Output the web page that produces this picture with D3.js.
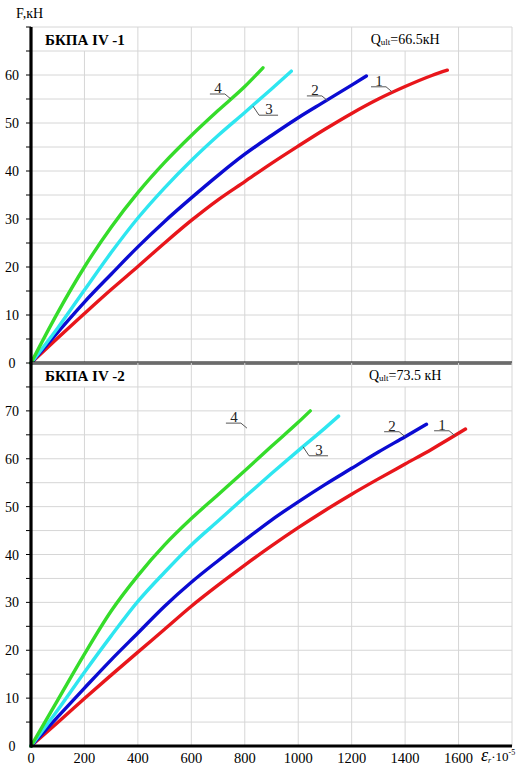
<!DOCTYPE html>
<html><head><meta charset="utf-8">
<script src="https://cdn.jsdelivr.net/npm/d3@7"></script>
<style>body{margin:0;background:#fff}svg{display:block}text{font-family:"Liberation Serif","Times New Roman",serif}</style>
</head><body>
<script>
// ---- data ----
const strainTicks = [0,200,400,600,800,1000,1200,1400,1600];
const gridStrain = [200,400,600,800,1000,1200,1400,1600,1800];
const headerGapStrain = [200,1400];
const topForceTicks = [0,10,20,30,40,50,60];
const botForceTicks = [0,10,20,30,40,50,60,70];
const seriesNames = ["1","2","3","4"];
const seriesColors = ["#e8161b","#0b0bd2","#2ee6f0","#35dc2a"];

// panel БКПА IV -1
const top1Strain = [0,100,200,300,400,500,600,700,800,900,1000,1100,1200,1300,1400,1500,1558];
const top1Force  = [0,5.2,10.3,15.3,20.1,25,29.7,34,37.8,41.6,45.2,48.7,52,55,57.6,59.9,61];
const top2Strain = [0,100,200,300,400,500,600,700,800,900,1000,1100,1200,1255];
const top2Force  = [0,6.4,12.7,18.5,24.2,29.5,34.4,39.1,43.5,47.4,51.1,54.5,57.9,59.8];
const top3Strain = [0,100,200,300,400,500,600,700,800,900,974];
const top3Force  = [0,7.3,15.2,23,30.2,36.5,42.2,47.4,52.2,57.1,60.8];
const top4Strain = [0,100,200,300,400,500,600,700,800,868];
const top4Force  = [0,10.5,20,28.3,35.5,41.8,47.4,52.6,57.6,61.5];
// label anchors [strain, force] on the curves
const topLabelAnchors = [[1351,56.5],[1111,54.6],[831,53.5],[748,55]];

// panel БКПА IV -2
const bot1Strain = [0,100,200,300,400,500,600,700,800,900,1000,1100,1200,1300,1400,1500,1626];
const bot1Force  = [0,4.9,9.9,14.8,19.6,24.4,29.2,33.6,37.8,41.8,45.6,49.2,52.6,55.8,58.9,62,66.2];
const bot2Strain = [0,100,200,300,400,500,600,700,800,900,1000,1100,1200,1300,1400,1480];
const bot2Force  = [0,6.1,12.1,18,23.6,29.2,34.2,38.7,43,47.2,51,54.6,58,61.4,64.6,67.2];
const bot3Strain = [0,100,200,300,400,500,600,700,800,900,1000,1100,1151];
const bot3Force  = [0,7.5,15.4,23,30.2,36.3,42,47,52,56.9,61.7,66.4,68.9];
const bot4Strain = [0,100,200,300,400,500,600,700,800,900,1000,1045];
const bot4Force  = [0,9.6,19.2,28.2,35.6,42,47.5,52.5,57.5,62.6,67.6,70];
const botLabelAnchors = [[1587,64.8],[1400,64.6],[1018,62.5],[808,66.4]];

const panelTitles = ["БКПА IV -1","БКПА IV -2"];
const panelQult = ["=66.5кН","=73.5 кН"];
const panelMax = [70,80];

// ---- layout ----
const W = 523, H = 767;
const svg = d3.select("body").append("svg").attr("width",W).attr("height",H)
  .attr("font-family","Liberation Serif, Times New Roman, serif");

const x = d3.scaleLinear().domain([0,1800]).range([31,512]);
const panels = [
  {y: d3.scaleLinear().domain([0,panelMax[0]]).range([363,27]), ticks: topForceTicks,
   series: [[top1Strain,top1Force],[top2Strain,top2Force],[top3Strain,top3Force],[top4Strain,top4Force]],
   anchors: topLabelAnchors, title: panelTitles[0], q: panelQult[0], max: panelMax[0]},
  {y: d3.scaleLinear().domain([0,panelMax[1]]).range([746,363]), ticks: botForceTicks,
   series: [[bot1Strain,bot1Force],[bot2Strain,bot2Force],[bot3Strain,bot3Force],[bot4Strain,bot4Force]],
   anchors: botLabelAnchors, title: panelTitles[1], q: panelQult[1], max: panelMax[1]}
];
const gridColor = "#d6d6d6";

panels.forEach((p, pi) => {
  const g = svg.append("g");
  const headerF = p.max - 5;
  g.selectAll(".hg").data(d3.range(5, p.max + 1, 5)).join("line")
    .attr("x1", x(0)).attr("x2", x(1800))
    .attr("y1", d => p.y(d)).attr("y2", d => p.y(d))
    .attr("stroke", gridColor).attr("stroke-width", 1);
  g.selectAll(".vg").data(gridStrain).join("line")
    .attr("x1", d => x(d)).attr("x2", d => x(d))
    .attr("y1", p.y(0))
    .attr("y2", d => headerGapStrain.includes(d) ? p.y(headerF) : p.y(p.max))
    .attr("stroke", gridColor).attr("stroke-width", 1);
  g.selectAll(".yt").data(d3.range(5, p.max + 1, 5)).join("line")
    .attr("x1", x(0) - 5).attr("x2", x(0))
    .attr("y1", d => p.y(d)).attr("y2", d => p.y(d))
    .attr("stroke", "#000").attr("stroke-width", 1);
  g.selectAll(".yl").data(p.ticks).join("text")
    .attr("x", 12).attr("y", d => p.y(d) + 5)
    .attr("text-anchor", "middle").attr("font-size", 14).attr("fill", "#000")
    .text(d => d);
  const line = d3.line().x(d => x(d[0])).y(d => p.y(d[1])).curve(d3.curveMonotoneX);
  p.series.forEach((s, si) => {
    const pts = s[0].map((v, i) => [v, s[1][i]]);
    g.append("path").datum(pts).attr("d", line)
      .attr("fill", "none").attr("stroke", seriesColors[si])
      .attr("stroke-width", 3.4).attr("stroke-linecap", "round");
  });
  p.anchors.forEach((a, si) => {
    const ax = x(a[0]), ay = p.y(a[1]);
    let pts, tx, ty;
    if (si === 2) {
      pts = [[ax, ay], [ax + 6, ay + 9], [ax + 25, ay + 9]];
      tx = ax + 16; ty = ay + 8;
    } else {
      pts = [[ax, ay], [ax - 6, ay - 5], [ax - 21, ay - 5]];
      tx = ax - 13; ty = ay - 6;
    }
    g.append("polyline").attr("points", pts.map(q => q.join(",")).join(" "))
      .attr("fill", "none").attr("stroke", "#555").attr("stroke-width", 1);
    g.append("text").attr("x", tx).attr("y", ty).attr("text-anchor", "middle")
      .attr("font-size", 15).attr("fill", "#222").text(seriesNames[si]);
  });
  g.append("text").attr("x", 45).attr("y", p.y(p.max) + 18)
    .attr("font-size", 15).attr("font-weight", "bold").text(p.title);
  const qt = g.append("text").attr("x", x(1400)).attr("y", p.y(p.max) + 17)
    .attr("text-anchor", "middle").attr("font-size", 14);
  qt.append("tspan").text("Q");
  qt.append("tspan").attr("font-size", 9).attr("dy", 1).text("ult");
  qt.append("tspan").attr("dy", -1).text(p.q);
  g.append("line").attr("x1", x(0)).attr("x2", x(1800))
    .attr("y1", p.y(0)).attr("y2", p.y(0))
    .attr("stroke", "#000").attr("stroke-width", 3);
});

svg.append("line").attr("x1", x(0)).attr("x2", x(0))
  .attr("y1", panels[0].y(panelMax[0])).attr("y2", panels[1].y(0) + 1.5)
  .attr("stroke", "#000").attr("stroke-width", 3.2);

svg.selectAll(".xl").data(strainTicks).join("text")
  .attr("x", d => x(d)).attr("y", 763)
  .attr("text-anchor", "middle").attr("font-size", 14.5).text(d => d);

svg.append("text").attr("x", 16).attr("y", 18).attr("font-size", 14).text("F,кН");
const xt = svg.append("text").attr("x", 481).attr("y", 761);
xt.append("tspan").attr("font-size", 18).attr("font-style", "italic").text("ε");
xt.append("tspan").attr("font-size", 8).attr("font-style", "italic").attr("dy", 2).text("r");
xt.append("tspan").attr("font-size", 13).attr("dy", -2).text("·10");
xt.append("tspan").attr("font-size", 8).attr("dy", -6).text("-5");
</script>
</body></html>
